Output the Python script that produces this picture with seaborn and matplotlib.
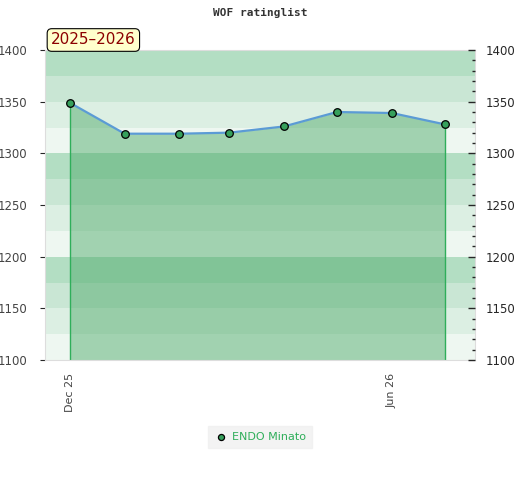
import matplotlib
matplotlib.use("Agg")
import matplotlib.pyplot as plt
from matplotlib.ticker import MultipleLocator
import pandas as pd
import seaborn as sns

# monthly rating values
dates = ["2025-12-01", "2026-01-01", "2026-02-01", "2026-03-01",
         "2026-04-01", "2026-05-01", "2026-06-01", "2026-07-01"]
ratings = [1349, 1319, 1319, 1320, 1326, 1340, 1339, 1328]
player = "ENDO Minato"
season = "2025\u20132026"
xtick_dates = ["2025-12-01", "2026-06-01"]
xtick_labels = ["Dec 25", "Jun 26"]

df = pd.DataFrame({"date": pd.to_datetime(dates), "rating": ratings})

sns.set_style("white")
plt.rcParams["font.family"] = ["DejaVu Sans"]

fig = plt.figure(figsize=(5.2, 4.8), dpi=100)
ax = fig.add_axes([45 / 520, 1 - 360 / 480, 430 / 520, 310 / 480])

# striped background, 4 shades per 100 points
band_cols = ["#eef7f1", "#dcefe3", "#c9e6d4", "#b3dec3"]
for i, lo in enumerate(range(1100, 1400, 25)):
    ax.axhspan(lo, lo + 25, color=band_cols[i % 4], lw=0, zorder=0)

# area under the line
ax.fill_between(df["date"], df["rating"], 1100, color="#45a562", alpha=0.45, lw=0, zorder=1)
ax.vlines([df["date"].iloc[0], df["date"].iloc[-1]], 1100,
          [df["rating"].iloc[0], df["rating"].iloc[-1]], color="#2fae5a", lw=1, zorder=2)

sns.lineplot(data=df, x="date", y="rating", ax=ax, color="#5b9bd5", lw=1.6, zorder=3)
sns.scatterplot(data=df, x="date", y="rating", ax=ax, color="#36a05c", edgecolor="black",
                linewidth=0.9, s=30, zorder=4, label=player)

ax.set_xlim(pd.Timestamp("2025-11-17"), pd.Timestamp("2026-07-18"))
ax.set_ylim(1100, 1400)
ax.set_xlabel("")
ax.set_ylabel("")

ax.set_xticks(pd.to_datetime(xtick_dates))
ax.set_xticklabels(xtick_labels, rotation=90, color="#444444", fontsize=8)
ax.set_yticks(range(1100, 1401, 50))
ax.tick_params(axis="y", left=False, labelsize=8.5, labelcolor="#444444", pad=9)
ax.tick_params(axis="x", bottom=False, pad=6)

for sp in ax.spines.values():
    sp.set_color("#dddddd")

ax2 = ax.twinx()
ax2.set_ylim(1100, 1400)
ax2.set_yticks(range(1100, 1401, 50))
ax2.yaxis.set_minor_locator(MultipleLocator(10))
ax2.tick_params(axis="y", which="major", direction="in", length=5, width=1, labelsize=8.5, pad=8)
ax2.tick_params(axis="y", which="minor", direction="in", length=2.5, width=1)
for sp in ax2.spines.values():
    sp.set_visible(False)

fig.text(0.5, 1 - 13 / 480, "WOF ratinglist", ha="center", va="center",
         fontsize=8, fontweight="bold", family="DejaVu Sans Mono", color="#333333")

fig.text(51 / 520, 1 - 40 / 480, season, ha="left", va="center", fontsize=11,
         color="#8b0000",
         bbox=dict(boxstyle="round,pad=0.25,rounding_size=0.3", fc="#ffffcc", ec="black", lw=0.8))

leg = ax.legend(loc="center", bbox_to_anchor=(0.5, 1 - (437 - 50) / 310), frameon=True,
                fontsize=8, handletextpad=0.4, borderpad=0.25, handlelength=1.2,
                markerscale=0.8, borderaxespad=0)
leg.get_frame().set_facecolor("#f0f0f0")
leg.get_frame().set_edgecolor("#f0f0f0")
leg.get_frame().set_boxstyle("square")
for t in leg.get_texts():
    t.set_color("#2fae5a")

fig.savefig("out.png", dpi=100)
